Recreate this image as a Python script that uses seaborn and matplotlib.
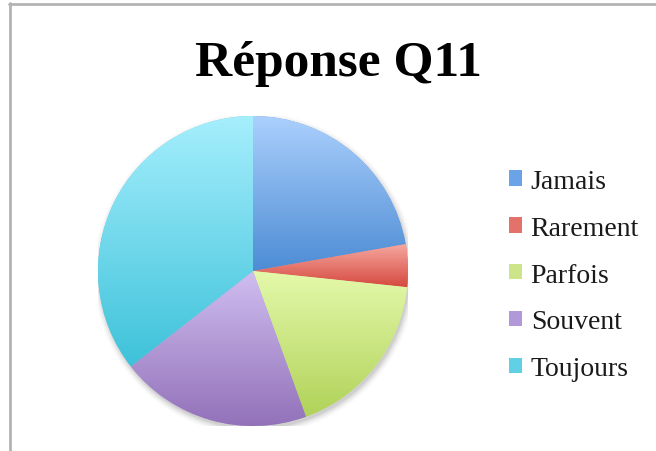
import numpy as np
import matplotlib
matplotlib.use("Agg")
import matplotlib.pyplot as plt
import seaborn as sns
from matplotlib.patches import Patch, Circle
from matplotlib.lines import Line2D
from matplotlib.colors import to_rgb

# ---- data ----
categories = ["Jamais", "Rarement", "Parfois", "Souvent", "Toujours"]
counts = [10, 2, 8, 9, 16]
title = "Réponse Q11"

# gradient colours (top, bottom) per slice and legend colours
top_colors = ["#abd0fd", "#f6aaa2", "#e4f9ab", "#d0bef0", "#a6effd"]
bottom_colors = ["#4d8cd4", "#d6493f", "#b0d258", "#9170b8", "#3ec2da"]
legend_colors = ["#6aa3e6", "#e5726a", "#cde588", "#b198d8", "#5fd0e6"]

sns.set_theme(style="white")
plt.rcParams["font.family"] = ["Liberation Serif", "DejaVu Serif"]

W, H = 656, 452
fig = plt.figure(figsize=(W / 100, H / 100), dpi=100)
fig.patch.set_facecolor("white")

cx, cy, r = 253, 272, 155
ax = fig.add_axes([(cx - r) / W, (H - cy - r) / H, 2 * r / W, 2 * r / H])
ax.set_xlim(-1.0, 1.0)
ax.set_ylim(-1.0, 1.0)
ax.set_aspect("equal")
ax.axis("off")

# soft shadow
for i, a in enumerate(np.linspace(0.05, 0.012, 6)):
    ax.add_patch(Circle((0.01, -0.02), 1.0 + 0.008 * i, color="black",
                        alpha=a, lw=0, zorder=0))

wedges, _ = ax.pie(counts, startangle=90, counterclock=False, radius=1.0,
                   colors=legend_colors,
                   wedgeprops=dict(linewidth=0, antialiased=True))

for w, tc, bc in zip(wedges, top_colors, bottom_colors):
    verts = w.get_patch_transform().transform(w.get_path().vertices)
    x0, x1 = verts[:, 0].min(), verts[:, 0].max()
    y0, y1 = verts[:, 1].min(), verts[:, 1].max()
    t = np.linspace(0, 1, 256)[:, None]
    grad = (1 - t) * np.array(to_rgb(tc)) + t * np.array(to_rgb(bc))
    img = ax.imshow(grad[:, None, :], extent=[x0, x1, y0, y1],
                    origin="upper", aspect="auto", zorder=2,
                    interpolation="bilinear")
    img.set_clip_path(w)
ax.set_xlim(-1.0, 1.0)
ax.set_ylim(-1.0, 1.0)

# title
fig.text(338 / W, 1 - 76 / H, title, ha="center", va="baseline",
         fontsize=37, fontweight="bold", color="black")

# legend
handles = [Patch(facecolor=c, edgecolor="none") for c in legend_colors]
fs = 20
leg = fig.legend(handles, categories, loc="upper left",
                 bbox_to_anchor=(509 / W, 1 - 170 / H),
                 frameon=False, fontsize=fs, borderpad=0, borderaxespad=0,
                 handlelength=0.48, handleheight=0.48, handletextpad=0.3,
                 labelspacing=0.785)
for txt in leg.get_texts():
    txt.set_color("#1a1a1a")

# chart frame (top and left edges visible)
fig.add_artist(Line2D([9 / W, 1.0], [1 - 5 / H, 1 - 5 / H],
                      transform=fig.transFigure, color="#b3b3b3", lw=2))
fig.add_artist(Line2D([10 / W, 10 / W], [0.0, 1 - 4 / H],
                      transform=fig.transFigure, color="#b3b3b3", lw=2))

fig.savefig("out.png", dpi=100)
